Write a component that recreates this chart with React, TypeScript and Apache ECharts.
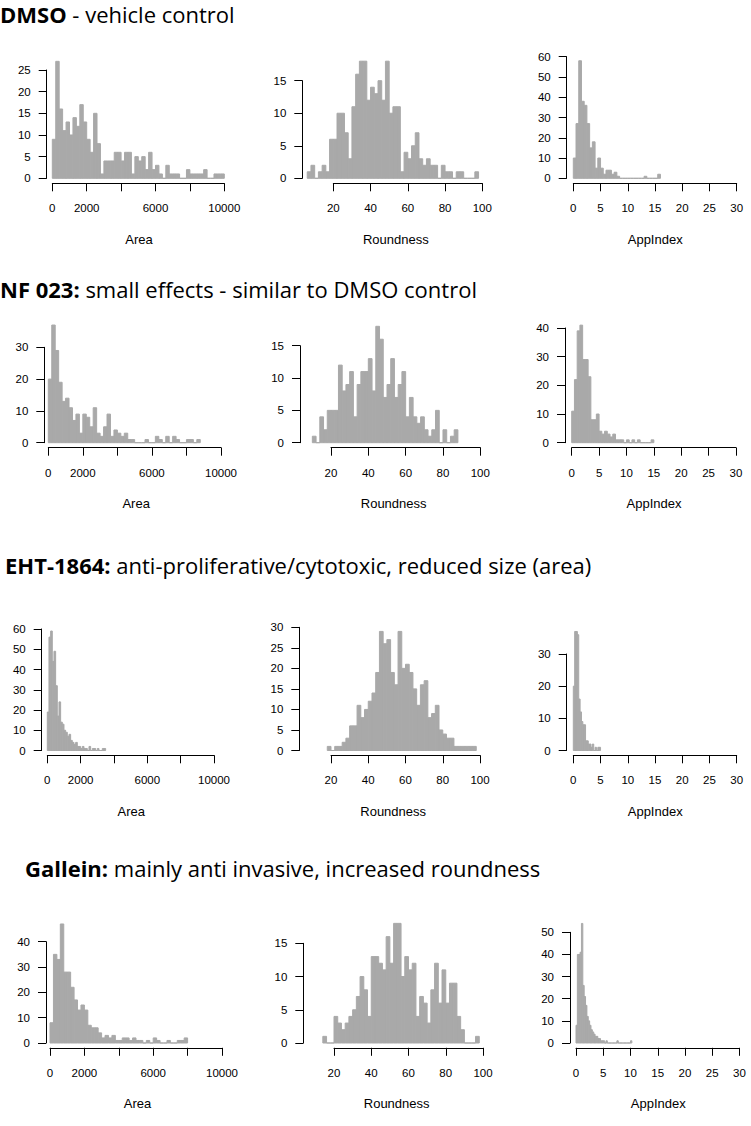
import React, { useEffect, useRef } from 'react';
import * as echarts from 'echarts';

// ---------- data (histogram counts per bin) ----------
const dmsoArea = [9, 27, 16, 11, 13, 10, 14, 12, 17, 13, 9, 6, 15, 8, 1, 4, 4, 4, 6, 6, 4, 6, 6, 1, 5, 4, 5, 2, 6, 2, 3, 1, 0, 3, 1, 1, 1, 0, 0, 2, 1, 1, 1, 1, 2, 0, 0, 1, 1, 1];
const dmsoRoundness = [1, 2, 0, 1, 2, 1, 6, 6, 10, 10, 7, 3, 11, 16, 18, 18, 12, 14, 13, 15, 12, 18, 10, 11, 11, 1, 4, 3, 5, 7, 3, 2, 3, 2, 2, 0, 2, 1, 1, 0, 1, 1, 0, 0, 0, 1];
const dmsoAppIndex = [10, 27, 58, 38, 36, 27, 15, 18, 5, 10, 5, 2, 4, 4, 2, 3, 1, 0, 0, 0, 0, 0, 0, 0, 0, 0, 1, 0, 0, 0, 0, 2];

const nf023Area = [20, 37, 29, 19, 13, 14, 11, 7, 9, 3, 9, 8, 5, 11, 3, 2, 5, 9, 2, 4, 3, 2, 3, 1, 1, 0, 0, 0, 1, 0, 0, 2, 1, 0, 2, 0, 2, 1, 0, 0, 1, 1, 0, 1];
const nf023Roundness = [1, 0, 4, 2, 5, 5, 5, 12, 8, 9, 11, 4, 9, 11, 11, 13, 8, 18, 16, 7, 9, 13, 7, 9, 11, 4, 7, 4, 3, 4, 2, 1, 2, 5, 0, 2, 0, 1, 2];
const nf023AppIndex = [11, 22, 39, 41, 29, 29, 23, 8, 8, 10, 4, 3, 4, 3, 2, 3, 1, 1, 1, 0, 1, 0, 1, 0, 1, 0, 0, 0, 0, 1];

const eht1864Area = [19, 56, 59, 44, 49, 32, 17, 24, 14, 13, 10, 9, 7, 8, 5, 4, 3, 4, 2, 2, 1, 2, 1, 1, 0, 2, 0, 1, 1, 0, 1, 0, 0, 1, 1];
const eht1864Roundness = [1, 0, 1, 1, 2, 3, 6, 6, 11, 8, 10, 12, 14, 19, 29, 26, 27, 19, 16, 29, 20, 21, 19, 15, 11, 16, 17, 8, 9, 11, 5, 4, 3, 3, 1, 1, 1, 1, 1, 1];
const eht1864AppIndex = [20, 37, 37, 36, 16, 12, 9, 8, 8, 3, 3, 2, 2, 1, 2, 0, 1, 0, 1, 1];

const galleinArea = [8, 35, 33, 47, 28, 28, 22, 17, 13, 15, 13, 7, 6, 6, 4, 2, 3, 2, 3, 1, 1, 2, 2, 1, 2, 1, 1, 0, 1, 0, 2, 1, 0, 0, 1, 0, 0, 1, 1, 2];
const galleinRoundness = [1, 0, 0, 4, 3, 2, 3, 4, 5, 7, 10, 8, 4, 13, 13, 12, 11, 16, 12, 18, 18, 10, 13, 11, 12, 4, 7, 6, 3, 8, 12, 6, 11, 6, 9, 9, 4, 2, 0, 0, 0, 1];
const galleinAppIndex = [8, 40, 40, 41, 54, 26, 21, 17, 12, 10, 8, 6, 5, 4, 3, 3, 2, 2, 1, 1, 1, 0, 1, 0, 0, 0, 0, 0, 0, 0, 1, 0, 0, 0, 0, 0, 0, 0, 0, 0, 1];

// bin breaks: [first break, bin width]
const dmsoAreaBins = [0, 200];
const nf023AreaBins = [0, 200];
const eht1864AreaBins = [0, 100];
const galleinAreaBins = [0, 200];
const dmsoRoundnessBins = [6, 2];
const nf023RoundnessBins = [10, 2];
const eht1864RoundnessBins = [18, 2];
const galleinRoundnessBins = [14, 2];
const dmsoAppIndexBins = [0, 0.5];
const nf023AppIndexBins = [0, 0.5];
const eht1864AppIndexBins = [0, 0.25];
const galleinAppIndexBins = [0, 0.25];

// axis ticks [min, max, step] and the labels that are printed
const areaTicks = [0, 10000, 2000];
const areaTickLabels = [0, 2000, 6000, 10000];
const roundnessTicks = [20, 100, 20];
const roundnessTickLabels = [20, 40, 60, 80, 100];
const appIndexTicks = [0, 30, 5];
const appIndexTickLabels = [0, 5, 10, 15, 20, 25, 30];
// y ticks [max, step] per row: area, roundness, appindex
const dmsoYTicks = [[25, 5], [15, 5], [60, 10]];
const nf023YTicks = [[30, 10], [15, 5], [40, 10]];
const eht1864YTicks = [[60, 10], [30, 5], [30, 10]];
const galleinYTicks = [[40, 10], [15, 5], [50, 10]];

const rowTitles = [
  ['DMSO', '\u00a0- vehicle control'],
  ['NF 023:', '\u00a0small effects - similar to DMSO control'],
  ['EHT-1864:', '\u00a0anti-proliferative/cytotoxic, reduced size (area)'],
  ['Gallein:', '\u00a0mainly anti invasive, increased roundness'],
];
const varNames = ['Area', 'Roundness', 'AppIndex'];

// ---------- layout (pixels) ----------
const ROWS = [
  { y0: 178.3, xAxisY: 183.3, tx: 0, ty: 14 },
  { y0: 442.7, xAxisY: 447.7, tx: 0, ty: 289 },
  { y0: 750.5, xAxisY: 755.3, tx: 5, ty: 565 },
  { y0: 1043, xAxisY: 1047.8, tx: 25, ty: 868 },
];
const PANELS_LAYOUT = [
  [{ ax: 46.7, x0: 52.3, x1: 224.3, yt: 70 }, { ax: 302.3, x0: 333.3, x1: 482.3, yt: 80.7 }, { ax: 566.7, x0: 573.3, x1: 736.7, yt: 56.7 }],
  [{ ax: 44.3, x0: 48.3, x1: 221, yt: 347.3 }, { ax: 300, x0: 331, x1: 480.3, yt: 345.7 }, { ax: 565, x0: 571.7, x1: 736, yt: 328 }],
  [{ ax: 41.7, x0: 47.3, x1: 214, yt: 629 }, { ax: 299.3, x0: 331, x1: 480, yt: 627.3 }, { ax: 566.7, x0: 573.3, x1: 736.7, yt: 654 }],
  [{ ax: 46, x0: 50, x1: 222, yt: 941.7 }, { ax: 303.3, x0: 334, x1: 483, yt: 943.3 }, { ax: 570, x0: 576, x1: 739.5, yt: 932.3 }],
];
const TICK_LEN = 8;
const XLABEL_MARGIN = 19;
const YLABEL_MARGIN = 16;
const AXIS_TITLE_DY = 56;

const GRAY = '#a9a9a9';
const LABEL_FONT = '"Liberation Sans", Arial, Helvetica, sans-serif';
const TITLE_FONT = '"Open Sans", "Noto Sans", sans-serif';

const rowData = [
  { counts: [dmsoArea, dmsoRoundness, dmsoAppIndex], bins: [dmsoAreaBins, dmsoRoundnessBins, dmsoAppIndexBins], yTicks: dmsoYTicks },
  { counts: [nf023Area, nf023Roundness, nf023AppIndex], bins: [nf023AreaBins, nf023RoundnessBins, nf023AppIndexBins], yTicks: nf023YTicks },
  { counts: [eht1864Area, eht1864Roundness, eht1864AppIndex], bins: [eht1864AreaBins, eht1864RoundnessBins, eht1864AppIndexBins], yTicks: eht1864YTicks },
  { counts: [galleinArea, galleinRoundness, galleinAppIndex], bins: [galleinAreaBins, galleinRoundnessBins, galleinAppIndexBins], yTicks: galleinYTicks },
];
const colTicks = [areaTicks, roundnessTicks, appIndexTicks];
const colTickLabels = [areaTickLabels, roundnessTickLabels, appIndexTickLabels];

function buildOption() {
  const grid: any[] = [];
  const xAxis: any[] = [];
  const yAxis: any[] = [];
  const series: any[] = [];
  const graphic: any[] = [];
  const title: any[] = [];

  rowData.forEach((row, r) => {
    const R = ROWS[r];
    title.push({
      text: `{b|${rowTitles[r][0]}}{n|${rowTitles[r][1]}}`,
      left: R.tx,
      top: R.ty - 13,
      padding: 0,
      textStyle: {
        rich: {
          b: { fontFamily: TITLE_FONT, fontSize: 22, fontWeight: 'bold', color: '#000', lineHeight: 26 },
          n: { fontFamily: TITLE_FONT, fontSize: 22, fontWeight: 'normal', color: '#000', lineHeight: 26 },
        },
      },
    });
    for (let c = 0; c < 3; c++) {
      const L = PANELS_LAYOUT[r][c];
      const idx = grid.length;
      const [xmin, xmax, xstep] = colTicks[c];
      const labels = colTickLabels[c];
      const [ymax, ystep] = row.yTicks[c];
      const [b0, bw] = row.bins[c];
      grid.push({ left: L.x0, top: L.yt, width: L.x1 - L.x0, height: R.y0 - L.yt, containLabel: false });
      xAxis.push({
        type: 'value', gridIndex: idx, min: xmin, max: xmax, interval: xstep,
        position: 'bottom', offset: R.xAxisY - R.y0,
        axisLine: { show: true, onZero: false, lineStyle: { color: '#000', width: 1 } },
        axisTick: { show: true, inside: false, length: TICK_LEN, lineStyle: { color: '#000', width: 1 } },
        axisLabel: {
          show: true, margin: XLABEL_MARGIN, fontSize: 11.5, fontFamily: LABEL_FONT, color: '#000',
          showMinLabel: true, showMaxLabel: true,
          formatter: (v: number) => (labels.indexOf(v) >= 0 ? String(v) : ''),
        },
        splitLine: { show: false },
      });
      yAxis.push({
        type: 'value', gridIndex: idx, min: 0, max: ymax, interval: ystep,
        position: 'left', offset: L.x0 - L.ax,
        axisLine: { show: true, onZero: false, lineStyle: { color: '#000', width: 1 } },
        axisTick: { show: true, inside: false, length: TICK_LEN, lineStyle: { color: '#000', width: 1 } },
        axisLabel: { show: true, margin: YLABEL_MARGIN, fontSize: 11.5, fontFamily: LABEL_FONT, color: '#000', showMinLabel: true, showMaxLabel: true },
        splitLine: { show: false },
      });
      const counts = row.counts[c];
      series.push({
        type: 'custom',
        xAxisIndex: idx,
        yAxisIndex: idx,
        clip: false,
        silent: true,
        data: counts.map((n, k) => [b0 + k * bw, b0 + (k + 1) * bw, n]),
        encode: { x: [0, 1], y: 2 },
        renderItem: (_p: any, api: any) => {
          const tl = api.coord([api.value(0), api.value(2)]);
          const br = api.coord([api.value(1), 0]);
          return {
            type: 'rect',
            shape: { x: tl[0], y: tl[1], width: br[0] - tl[0], height: br[1] - tl[1] },
            style: { fill: GRAY, stroke: GRAY, lineWidth: 1 },
          };
        },
      });
      const cx = (L.ax + L.x1 + 7) / 2;
      graphic.push({
        type: 'text',
        x: cx,
        y: R.xAxisY + AXIS_TITLE_DY,
        style: {
          text: varNames[c], fill: '#000', font: `13px ${LABEL_FONT}`,
          textAlign: 'center', textVerticalAlign: 'middle', align: 'center', verticalAlign: 'middle',
        },
      });
    }
  });

  return { animation: false, backgroundColor: '#fff', title, grid, xAxis, yAxis, series, graphic };
}

export default function App() {
  const ref = useRef<HTMLDivElement>(null);
  useEffect(() => {
    if (!ref.current) return;
    const chart = echarts.init(ref.current, null, { renderer: 'svg' });
    chart.setOption(buildOption() as any);
    return () => chart.dispose();
  }, []);
  return (
    <div
      ref={ref}
      style={{ position: 'absolute', left: 0, top: 0, width: 751, height: 1126, background: '#fff' }}
    />
  );
}
